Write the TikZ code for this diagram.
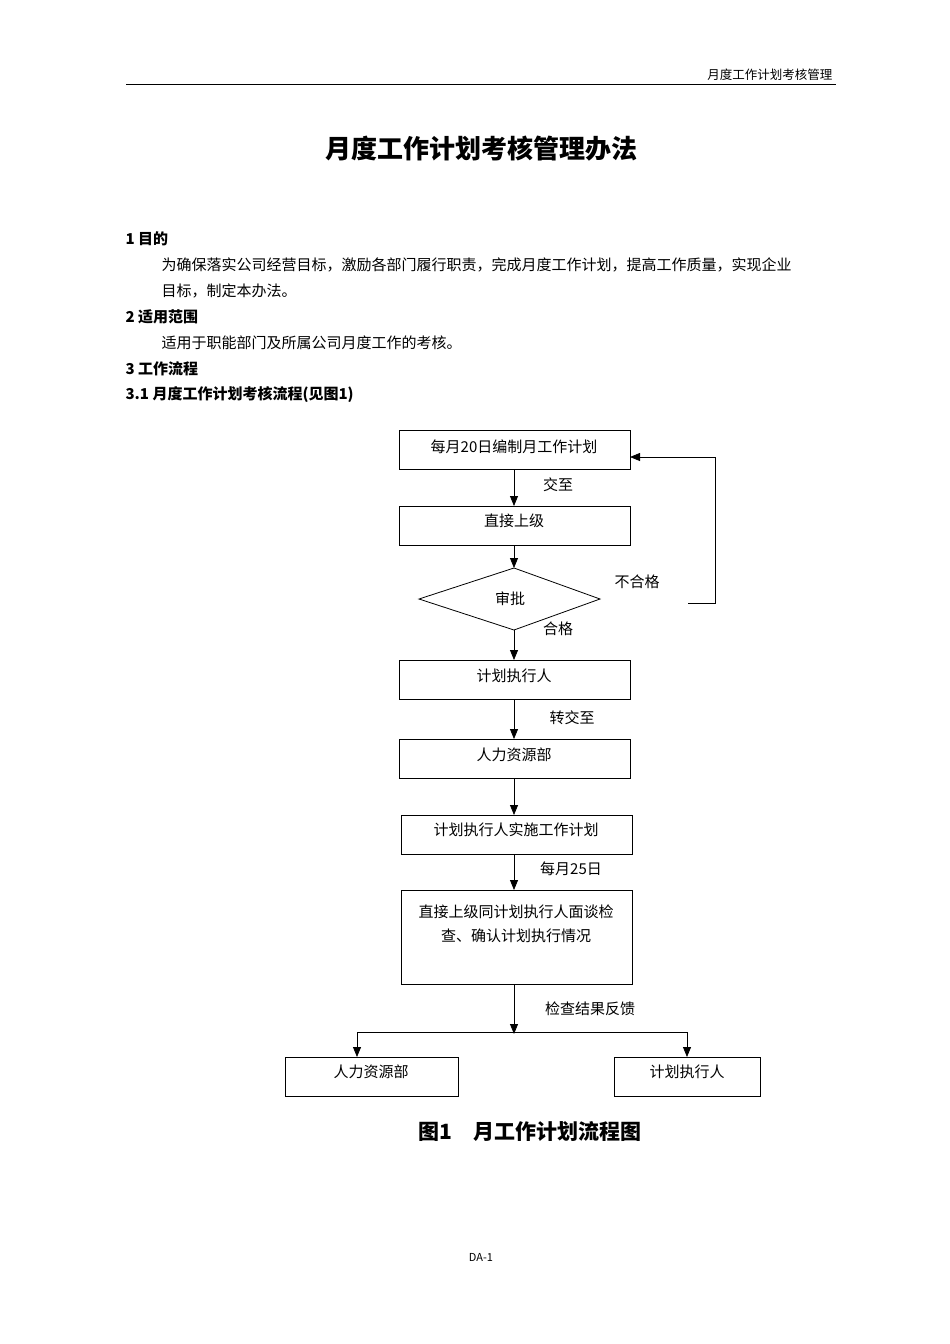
\documentclass[tikz,border=0pt]{standalone}
\usepackage{fontspec}
\setmainfont{Noto Sans CJK SC}
\usetikzlibrary{arrows.meta}
\begin{document}
\begin{tikzpicture}[x=1pt,y=-1pt,
  bx/.style={draw,line width=0.8pt,inner sep=0pt},
  ft/.style={font=\fontsize{15}{17}\selectfont},
  ar/.style={-{Triangle[length=10pt,width=8pt]},line width=0.8pt},
  ln/.style={line width=0.8pt}]
\useasboundingbox (0,0) rectangle (950,1344);
\node[anchor=east,font=\fontsize{12.5}{14}\selectfont] (hd) at (836,75) {月度工作计划考核管理};
\draw[line width=0.6pt] (126,84) -- (836,84);
\node[font=\fontsize{26}{28}\selectfont\bfseries] (ti) at (481,149) {月度工作计划考核管理办法};
\begin{scope}[every node/.style={anchor=west,font=\fontsize{15}{17}\selectfont}]
\node[font=\fontsize{15}{17}\selectfont\bfseries] (s1) at (122,239) {1 目的};
\node (p1) at (158,265) {为确保落实公司经营目标，激励各部门履行职责，完成月度工作计划，提高工作质量，实现企业};
\node (p2) at (158,291) {目标，制定本办法。};
\node[font=\fontsize{15}{17}\selectfont\bfseries] (s2) at (122,317) {2 适用范围};
\node (p3) at (158,343) {适用于职能部门及所属公司月度工作的考核。};
\node[font=\fontsize{15}{17}\selectfont\bfseries] (s3) at (122,369) {3 工作流程};
\node[font=\fontsize{15}{17}\selectfont\bfseries] (s31) at (122,395) {3.1 月度工作计划考核流程(见图1)};
\end{scope}
% boxes
\draw[bx] (399,430) rectangle (630,469); \node[ft] (b1) at (514,447) {每月20日编制月工作计划};
\draw[bx] (399,506) rectangle (630,545); \node[ft] (b2) at (514,521) {直接上级};
\draw[ln] (514,568) -- (600,599) -- (514,630) -- (419,599) -- cycle;
\node[ft] (d) at (510,599) {审批};
\draw[bx] (399,660) rectangle (630,699); \node[ft] (b3) at (514,676) {计划执行人};
\draw[bx] (399,739) rectangle (630,778); \node[ft] (b4) at (514,755) {人力资源部};
\draw[bx] (401,815) rectangle (632,854); \node[ft] (b5) at (516,830) {计划执行人实施工作计划};
\draw[bx] (401,890) rectangle (632,984);
\node[ft,align=center] (b6) at (516,924) {直接上级同计划执行人面谈检\\[7pt]查、确认计划执行情况};
\draw[bx] (285,1057) rectangle (458,1096); \node[ft] (b7) at (371,1072) {人力资源部};
\draw[bx] (614,1057) rectangle (760,1096); \node[ft] (b8) at (687,1072) {计划执行人};
% connectors
\draw[ar] (514,469) -- (514,506);
\node[ft] (l1) at (558,485) {交至};
\draw[ar] (514,545) -- (514,568);
\draw[ar] (688,603) -- (715,603) -- (715,457) -- (630,457);
\node[ft] (l2) at (637,582) {不合格};
\draw[ar] (514,630) -- (514,660);
\node[ft] (l3) at (558,629) {合格};
\draw[ar] (514,699) -- (514,739);
\node[ft] (l4) at (572,718) {转交至};
\draw[ar] (514,778) -- (514,815);
\draw[ar] (514,854) -- (514,890);
\node[ft] (l5) at (571,869) {每月25日};
\draw[ar] (514,984) -- (514,1034);
\node[ft] (l6) at (590,1009) {检查结果反馈};
\draw[ln] (357,1032) -- (687,1032);
\draw[ar] (357,1032) -- (357,1057);
\draw[ar] (687,1032) -- (687,1057);
\node[font=\fontsize{21}{23}\selectfont\bfseries] (cap) at (530,1132) {图1\quad 月工作计划流程图};
\node[font=\fontsize{11}{12}\selectfont] (ft) at (481,1257) {DA-1};
\end{tikzpicture}
\end{document}
